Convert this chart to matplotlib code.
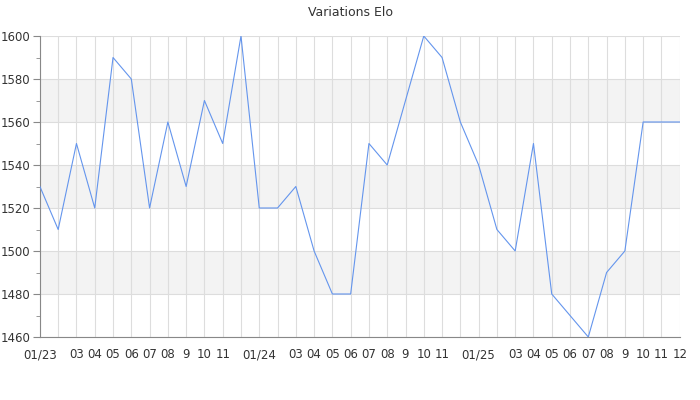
import matplotlib
matplotlib.use("Agg")
import matplotlib.pyplot as plt
from matplotlib.ticker import MultipleLocator

# monthly Elo, 01/23 .. 12/25
months = [
    "01/23", "02", "03", "04", "05", "06", "07", "08", "9", "10", "11", "12",
    "01/24", "02", "03", "04", "05", "06", "07", "08", "9", "10", "11", "12",
    "01/25", "02", "03", "04", "05", "06", "07", "08", "9", "10", "11", "12",
]
hidden_labels = {1, 11, 13, 23, 25}  # labels dropped on the reference axis
elo = [
    1530, 1510, 1550, 1520, 1590, 1580, 1520, 1560, 1530, 1570, 1550, 1600,
    1520, 1520, 1530, 1500, 1480, 1480, 1550, 1540, 1570, 1600, 1590, 1560,
    1540, 1510, 1500, 1550, 1480, 1470, 1460, 1490, 1500, 1560, 1560, 1560,
]
bands = [(1480, 1500), (1520, 1540), (1560, 1580)]

LINE_COLOR = "#6495ed"
GRID_COLOR = "#dddddd"
BAND_COLOR = "#f3f3f3"
AXIS_COLOR = "#888888"
TEXT_COLOR = "#333333"

fig = plt.figure(figsize=(7, 4), dpi=100)
ax = fig.add_axes([0.057, 0.1575, 0.914, 0.7525])

x = list(range(len(elo)))
for lo, hi in bands:
    ax.axhspan(lo, hi, color=BAND_COLOR, zorder=0, lw=0)

ax.plot(x, elo, color=LINE_COLOR, lw=0.8, zorder=3)

ax.set_xlim(0, len(elo) - 1)
ax.set_ylim(1460, 1600)
ax.yaxis.set_major_locator(MultipleLocator(20))
ax.yaxis.set_minor_locator(MultipleLocator(10))
ax.set_xticks(x)
ax.set_xticklabels(["" if i in hidden_labels else m for i, m in enumerate(months)])

ax.grid(True, which="major", color=GRID_COLOR, lw=0.8, zorder=1)
ax.set_axisbelow(True)

for side in ("top", "right"):
    ax.spines[side].set_visible(False)
for side in ("left", "bottom"):
    ax.spines[side].set_color(AXIS_COLOR)
    ax.spines[side].set_linewidth(0.8)

ax.tick_params(axis="x", length=0, pad=8, labelsize=8.5, labelcolor=TEXT_COLOR)
ax.tick_params(axis="y", which="major", length=5, color=AXIS_COLOR, labelsize=8.5,
               labelcolor=TEXT_COLOR, pad=2)
ax.tick_params(axis="y", which="minor", length=3, color=AXIS_COLOR)

fig.suptitle("Variations Elo", y=0.985, fontsize=9, color=TEXT_COLOR)

fig.savefig("out.png", dpi=100)
